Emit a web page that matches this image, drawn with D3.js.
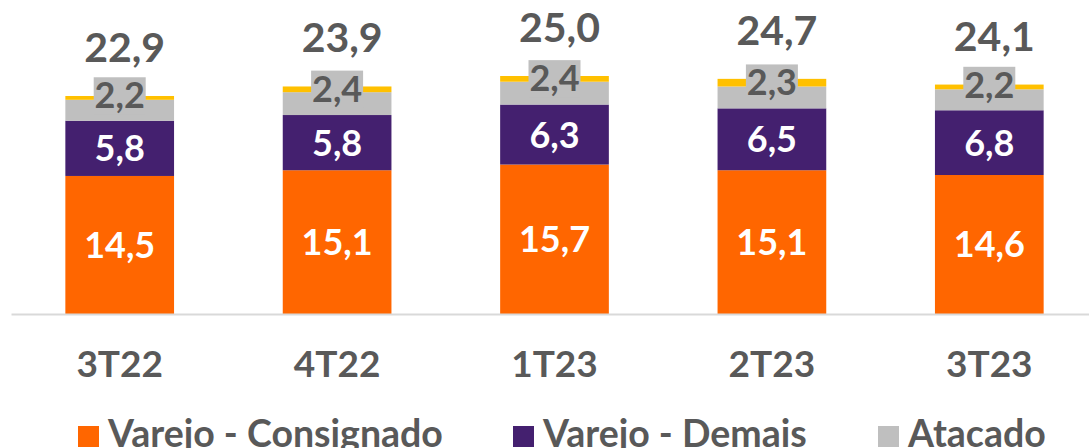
<html>
  <head>
    <meta charset="utf-8">
    <script src="https://cdn.jsdelivr.net/npm/d3@7/dist/d3.min.js"></script>
    <style>
      body { margin: 0; background: #fff; }
      text { font-family: Lato, "DejaVu Sans", sans-serif; font-weight: bold; }
    </style>
  </head>
  <body>
    <div id="main"></div>
  <script>
    // quarters and the four stacked series (R$ bi)
    var categories = ['3T22', '4T22', '1T23', '2T23', '3T23'];
    var consignado = [14.5, 15.1, 15.7, 15.1, 14.6];
    var demais = [5.8, 5.8, 6.3, 6.5, 6.8];
    var atacado = [2.2, 2.4, 2.4, 2.3, 2.2];
    var outros = [0.4, 0.6, 0.6, 0.8, 0.5];
    var totalLabels = ['22,9', '23,9', '25,0', '24,7', '24,1'];
    var legendLabels = ['Varejo - Consignado', 'Varejo - Demais', 'Atacado'];

    var width = 1089;
    var height = 448;
    var baseline = 314;

    var keys = ['consignado', 'demais', 'atacado', 'outros'];
    var colors = { consignado: '#FF6600', demais: '#44206F', atacado: '#BFBFBF', outros: '#FFC000' };

    // table for d3.stack
    var rows = categories.map(function(c, i) {
      return { cat: c, consignado: consignado[i], demais: demais[i], atacado: atacado[i], outros: outros[i] };
    });

    var svg = d3.select('#main')
      .append('svg')
      .attr('width', width)
      .attr('height', height);

    var x = d3.scaleBand()
      .domain(categories)
      .range([11, 1098])
      .paddingInner(0.5)
      .paddingOuter(0.25);

    var y = d3.scaleLinear()
      .domain([0, 25])
      .range([baseline, 76]);

    var series = d3.stack().keys(keys)(rows);

    var fmt = function(v) { return d3.format('.1f')(v).replace('.', ','); };

    // bars
    svg.selectAll('g.layer')
      .data(series)
      .enter()
      .append('g')
      .attr('class', 'layer')
      .attr('fill', function(d) { return colors[d.key]; })
      .selectAll('rect')
      .data(function(d) { return d; })
      .enter()
      .append('rect')
      .attr('x', function(d) { return x(d.data.cat); })
      .attr('width', x.bandwidth())
      .attr('y', function(d) { return y(d[1]); })
      .attr('height', function(d) { return y(d[0]) - y(d[1]); });

    // x axis: light line + quarter labels
    var axis = svg.append('g')
      .attr('transform', 'translate(0,' + baseline + ')')
      .call(d3.axisBottom(x).tickSize(0).tickPadding(37));
    axis.select('.domain').attr('stroke', '#D9D9D9').attr('stroke-width', 2);
    axis.selectAll('.tick text')
      .attr('fill', '#595959')
      .style('font-size', '37px')
      .style('font-family', 'Lato, sans-serif')
      .style('font-weight', 'bold');

    // white labels inside orange and purple
    ['consignado', 'demais'].forEach(function(k) {
      var s = series[keys.indexOf(k)];
      svg.append('g').selectAll('text')
        .data(s)
        .enter()
        .append('text')
        .attr('x', function(d) { return x(d.data.cat) + x.bandwidth() / 2; })
        .attr('y', function(d) { return (y(d[0]) + y(d[1])) / 2; })
        .attr('dy', '0.36em')
        .attr('text-anchor', 'middle')
        .attr('fill', '#fff')
        .style('font-size', '36px')
        .text(function(d) { return fmt(d[1] - d[0]); });
    });

    // atacado labels, boxed and lifted above the segment
    var at = series[2];
    var atG = svg.append('g').selectAll('g')
      .data(at)
      .enter()
      .append('g')
      .attr('transform', function(d) {
        return 'translate(' + (x(d.data.cat) + x.bandwidth() / 2) + ',' + ((y(d[0]) + y(d[1])) / 2 - 15) + ')';
      });
    atG.append('rect')
      .attr('x', -26).attr('y', -18).attr('width', 52).attr('height', 37)
      .attr('fill', '#BFBFBF');
    atG.append('text')
      .attr('dy', '0.36em')
      .attr('text-anchor', 'middle')
      .attr('fill', '#595959')
      .style('font-size', '36px')
      .text(function(d) { return fmt(d[1] - d[0]); });

    // totals above each stack
    var topLayer = series[3];
    svg.append('g').selectAll('text')
      .data(topLayer)
      .enter()
      .append('text')
      .attr('x', function(d) { return x(d.data.cat) + x.bandwidth() / 2 + 5; })
      .attr('y', function(d) { return y(d[1]) - 34; })
      .attr('text-anchor', 'middle')
      .attr('fill', '#595959')
      .style('font-size', '41px')
      .text(function(d, i) { return totalLabels[i]; });

    // legend
    var legendX = [78, 513, 878];
    var lg = svg.append('g').selectAll('g')
      .data(legendLabels)
      .enter()
      .append('g')
      .attr('transform', function(d, i) { return 'translate(' + legendX[i] + ',426)'; });
    lg.append('rect')
      .attr('width', 21).attr('height', 21)
      .attr('fill', function(d, i) { return colors[keys[i]]; });
    lg.append('text')
      .attr('x', 30)
      .attr('y', 21)
      .attr('fill', '#595959')
      .style('font-size', '37.5px')
      .text(function(d) { return d; });
  </script>
  </body>
</html>
